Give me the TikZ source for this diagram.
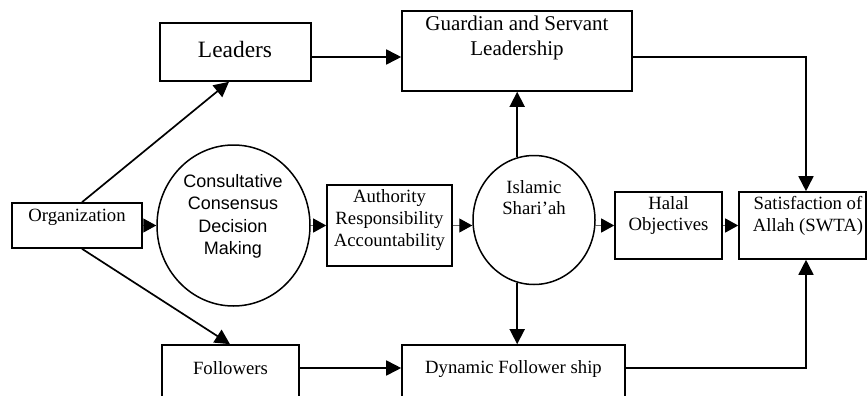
\documentclass[tikz,border=0pt]{standalone}
\usepackage{fontspec}
\setmainfont{Liberation Serif}
\newfontfamily\sansf{Liberation Sans}
\usetikzlibrary{arrows.meta,shapes.geometric}
\begin{document}
\begin{tikzpicture}[x=1pt,y=-1pt,
  box/.style={draw,line width=1.6pt,inner sep=0pt,rectangle},
  circ/.style={draw,line width=1.5pt,ellipse,inner sep=0pt},
  txt/.style={align=center,inner sep=0pt,font=\fontsize{18.7}{21.7}\selectfont},
  conn/.style={line width=1.7pt,-{Triangle[length=15pt,width=15pt]}},
  sconn/.style={line width=1.2pt,black!60,-{Triangle[length=13pt,width=14pt,color=black]}}]
\useasboundingbox (0,0) rectangle (867,396);
\clip (0,0) rectangle (867,396);
% boxes
\node[box,minimum width=130pt,minimum height=45pt] (org) at (77,225.5) {};
\node[txt] (orgt) at (77,217) {Organization};
\node[box,minimum width=151pt,minimum height=58pt] (lead) at (235.5,52) {};
\node[txt,font=\fontsize{23.4}{26}\selectfont] (leadt) at (235,49) {Leaders};
\node[box,minimum width=230pt,minimum height=80pt] (guard) at (517,51) {};
\node[txt,font=\fontsize{21}{25}\selectfont] (guardt) at (517,37.5) {Guardian and Servant\\Leadership};
\node[box,minimum width=125pt,minimum height=81pt] (auth) at (389.5,225.5) {};
\node[txt] (autht) at (389.5,220) {Authority\\Responsibility\\Accountability};
\node[box,minimum width=107pt,minimum height=67pt] (halal) at (668.5,225.5) {};
\node[txt] (halalt) at (668.5,215.5) {Halal\\Objectives};
\node[box,minimum width=127pt,minimum height=67pt] (sat) at (802.5,225.5) {};
\node[txt] (satt) at (808,216) {Satisfaction of\\Allah (SWTA)};
\node[box,minimum width=137pt,minimum height=60pt] (foll) at (230.5,375) {};
\node[txt] (follt) at (230.5,368) {Followers};
\node[box,minimum width=223pt,minimum height=60pt] (dyn) at (513.5,375) {};
\node[txt] (dynt) at (513.5,369) {Dynamic Follower ship};
% circles
\node[circ,minimum width=153pt,minimum height=161pt] (cons) at (233.5,225.5) {};
\node[txt,font=\sansf\fontsize{18}{22.4}\selectfont] (const) at (233,216.5) {Consultative\\Consensus\\Decision\\Making};
\node[circ,minimum width=122pt,minimum height=129pt] (isl) at (534,220) {};
\node[txt] (islt) at (534,197.5) {Islamic\\Shari’ah};
% connectors
\draw[conn] ([yshift=-5pt]lead.east) -- ([yshift=-5pt]lead.east -| guard.west);
\draw[conn] ([yshift=-6pt]guard.east) -| ([xshift=3.5pt]sat.north);
\draw[conn] ([yshift=7pt]dyn.east) -| ([xshift=3.5pt]sat.south);
\draw[conn] ([yshift=7pt]foll.east) -- ([yshift=7pt]foll.east -| dyn.west);
\draw[conn] ([xshift=5pt]org.north) -- ([xshift=-6.5pt]lead.south);
\draw[conn] ([xshift=5pt]org.south) -- ([xshift=-0.5pt]foll.north);
\draw[conn] (isl.105) -- (isl.105 |- guard.south);
\draw[conn] (isl.255) -- (isl.255 |- dyn.north);
\draw[sconn] (org.east) -- (org.east -| cons.west);
\draw[sconn] (cons.east) -- (cons.east -| auth.west);
\draw[sconn] (auth.east) -- (auth.east -| isl.west);
\draw[sconn] (halal.west -| isl.east) -- (halal.west);
\draw[sconn] (halal.east) -- (sat.west);
\end{tikzpicture}
\end{document}
